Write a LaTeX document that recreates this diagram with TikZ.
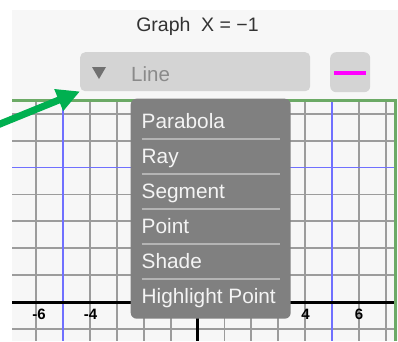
\documentclass[tikz,border=0pt]{standalone}
\usepackage{fontspec}
\setmainfont{Liberation Sans}
\usetikzlibrary{arrows.meta}
\definecolor{panelbg}{HTML}{F7F7F7}
\definecolor{gridgray}{HTML}{9C9C9C}
\definecolor{gridgreen}{HTML}{6CAA66}
\definecolor{gridblue}{HTML}{7070FF}
\definecolor{boxgray}{HTML}{D4D4D4}
\definecolor{menugray}{HTML}{808080}
\definecolor{sepgray}{HTML}{B4B4B4}
\definecolor{arrowgreen}{HTML}{00B050}
\definecolor{magline}{HTML}{FF00FF}
\definecolor{titlegray}{HTML}{333333}
\definecolor{linegray}{HTML}{8A8A8A}
\definecolor{trigray}{HTML}{707070}
\definecolor{itemwhite}{HTML}{F4F4F4}
\tikzset{
  gridline/.style={draw=gridgray, line width=1.8pt},
  blueline/.style={draw=gridblue, line width=1.7pt},
  axisline/.style={draw=black, line width=3pt},
  greenline/.style={draw=gridgreen, line width=3pt},
  btnbox/.style={fill=boxgray, rounded corners=5pt, inner sep=0pt},
  menubox/.style={fill=menugray, rounded corners=6pt, inner sep=0pt},
  itemtext/.style={text=itemwhite, font=\fontsize{20.8}{23}\selectfont, inner sep=0pt},
  septline/.style={draw=sepgray, line width=2pt},
  titletext/.style={text=titlegray, font=\fontsize{19.5}{22}\selectfont, inner sep=0pt},
  axislabel/.style={text=black, font=\fontsize{15}{17}\selectfont\bfseries, inner sep=0pt},
  greenarrow/.style={draw=arrowgreen, line width=7pt, -{Triangle[length=23pt,width=22pt]}}
}
\begin{document}
\begin{tikzpicture}[x=1pt,y=-1pt]
\useasboundingbox (0,0) rectangle (398,341);
\fill[white] (0,0) rectangle (398,341);
\fill[panelbg] (12,10) rectangle (398,341);
% grid
\begin{scope}
\clip (12,100) rectangle (398,341);
\foreach \i in {-7,...,7} \draw[gridline] ({197.5+26.9*\i},100) -- ({197.5+26.9*\i},341);
\foreach \j in {-1,...,7} \draw[gridline] (12,{302-26.9*\j}) -- (396,{302-26.9*\j});
\draw[blueline] (63,100) -- (63,341);
\draw[blueline] (332,100) -- (332,341);
\draw[blueline] (12,167.5) -- (396,167.5);
\draw[axisline] (12,302) -- (396,302);
\draw[axisline] (197.5,100) -- (197.5,341);
\end{scope}
\draw[greenline] (12,100.5) -- (397,100.5);
\draw[greenline] (395.5,100) -- (395.5,341);
% axis labels
\node[axislabel, anchor=base] (lm6) at (39,319.5) {-6};
\node[axislabel, anchor=base] (lm4) at (90.5,319.5) {-4};
\node[axislabel, anchor=base] (lp4) at (305.5,319.5) {4};
\node[axislabel, anchor=base] (lp6) at (359,319.5) {6};
% title
\node[titletext, anchor=base] (title) at (197.5,31.5) {Graph\hspace{0.55em}X = −1};
% dropdown
\node[btnbox, anchor=north west, minimum width=230pt, minimum height=39pt] (dropdown) at (80,52) {};
\fill[trigray] (92,67) -- (106,67) -- (99,79) -- cycle;
\node[text=linegray, font=\fontsize{20.5}{23}\selectfont, inner sep=0pt, anchor=base west] (linelabel) at (131,81.5) {Line};
% colour button
\node[btnbox, rounded corners=6pt, anchor=north west, minimum width=40pt, minimum height=40pt] (colorbtn) at (330,52) {};
\draw[magline, line width=4pt] (334,73) -- (366,73);
% menu
\node[menubox, anchor=north west, minimum width=160pt, minimum height=220pt] (menu) at (130.5,98.5) {};
\node[itemtext, anchor=base west] (parabola) at (141.5,128) {Parabola};
\node[itemtext, anchor=base west] (ray) at (141.5,163) {Ray};
\node[itemtext, anchor=base west] (segment) at (141.5,198) {Segment};
\node[itemtext, anchor=base west] (point) at (141.5,233) {Point};
\node[itemtext, anchor=base west] (shade) at (141.5,268) {Shade};
\node[itemtext, anchor=base west] (highlight) at (141.5,303) {Highlight Point};
\foreach \s in {138.5,173.5,208.5,243.5,278.5} \draw[septline] (141.5,\s) -- (280,\s);
% arrow
\coordinate (arrowstart) at (-2,124.8);
\draw[greenarrow] (arrowstart) -- (dropdown.south west);
\end{tikzpicture}
\end{document}
